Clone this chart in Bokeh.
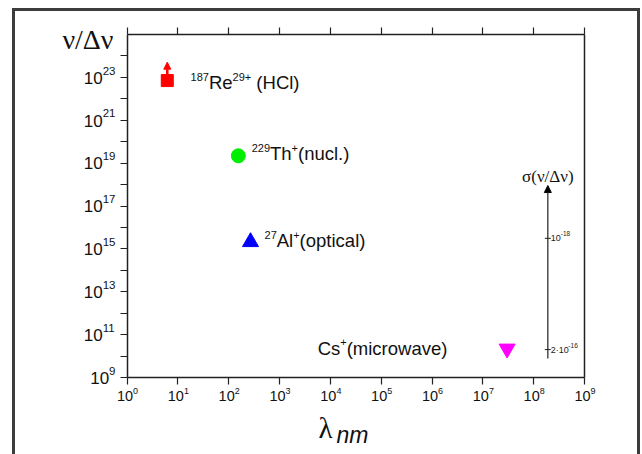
import math
from bokeh.plotting import figure
from bokeh.models import (FixedTicker, LogAxis, Label, Arrow, NormalHead,
                          CustomJSTickFormatter, Range1d)
from bokeh.embed import file_html
from bokeh.resources import INLINE

# ---------------- data ----------------
species = ["Re", "Th", "Al", "Cs"]
wavelength_nm = [6.2, 155, 269, 3.0e7]
q_factor = [7.1e22, 2.2e19, 2.1e15, 2.2e10]
# label pieces: (text, "b" = normal, "s" = superscript)
point_labels = [
    [("187", "s"), ("Re", "b"), ("29+", "s"), (" (HCl)", "b")],
    [("229", "s"), ("Th", "b"), ("+", "s"), ("(nucl.)", "b")],
    [("27", "s"), ("Al", "b"), ("+", "s"), ("(optical)", "b")],
    [("Cs", "b"), ("+", "s"), ("(microwave)", "b")],
]
re_lower_limit_tip = 5.1e23

x_ticks = [10.0 ** k for k in range(0, 10)]
y_ticks = [10.0 ** k for k in range(9, 24, 2)]
y_minor = [10.0 ** k for k in range(10, 25, 2)]
x_lim = [1.0, 1e9]
y_lim = [1e9, 1e25]

sigma_x = 1.9e8
sigma_span = [7.7e9, 9.0e17]
sigma_tick_pos = [3.1e15, 2.0e10]
sigma_tick_labels = [[("10", "b"), ("-18", "s")], [("2·10", "b"), ("-16", "s")]]

# ---------------- styles / layout ----------------
marker_styles = [
    dict(marker="square", size=12, color="#ff0000"),
    dict(marker="circle", size=14, color="#00ee00"),
    dict(marker="triangle", size=16, color="#0000ff"),
    dict(marker="inverted_triangle", size=16, color="#ff00ff"),
]
# (x offset px, baseline offset px, align)
label_place = [(23.3, -8.3, "left"), (13.3, -4.3, "left"), (14, -5.3, "left"), (-59.7, -6, "right")]

SANS = "Liberation Sans"
SERIF = "Liberation Serif"
MID = {SANS: 0.3465, SERIF: 0.3375}   # em distance baseline -> middle of em box
AX = "#222222"
TXT = "#111111"

ARIAL = {"0": .556, "1": .556, "2": .556, "3": .556, "4": .556, "5": .556, "6": .556,
         "7": .556, "8": .556, "9": .556, "+": .584, "-": .333, "·": .278, " ": .278,
         "(": .333, ")": .333, ".": .278, "R": .722, "e": .556, "H": .722, "C": .722,
         "l": .222, "T": .611, "h": .556, "n": .556, "u": .556, "c": .5, "A": .667,
         "o": .556, "p": .556, "t": .278, "i": .222, "a": .556, "s": .5, "m": .833,
         "r": .333, "w": .722, "v": .5}


def tw(s, size):
    return sum(ARIAL.get(c, .556) for c in s) * size


W, H = 642, 454
# pixel box of the axes inside the canvas
FL, FR, FT, FB = 126.5, 584.0, 34.0, 377.0
lx0, lx1 = math.log10(x_lim[0]), math.log10(x_lim[1])
ly0, ly1 = math.log10(y_lim[0]), math.log10(y_lim[1])
pdx = (FR - FL) / (lx1 - lx0)
pdy = (FB - FT) / (ly1 - ly0)
xr = Range1d(10 ** (lx0 - FL / pdx), 10 ** (lx1 + (W - FR) / pdx))
yr = Range1d(10 ** (ly0 - (H - FB) / pdy), 10 ** (ly1 + FT / pdy))

p = figure(width=W, height=H, x_axis_type="log", y_axis_type="log",
           x_range=xr, y_range=yr, x_axis_location=None, y_axis_location=None,
           output_backend="svg", toolbar_location=None, min_border=0)
p.xgrid.visible = False
p.ygrid.visible = False
p.outline_line_color = None
p.background_fill_alpha = 0
p.border_fill_alpha = 0
BC = "#3c3c3c"
p.styles = {
    "background-color": "white",
    "background-image": f"linear-gradient({BC},{BC}), linear-gradient({BC},{BC}), linear-gradient({BC},{BC})",
    "background-size": "3px 100%, 628px 3px, 3px 100%",
    "background-position": "12px 8px, 12px 8px, 637px 8px",
    "background-repeat": "no-repeat",
}


def label(x, y, text, dx, base_dy, size, font=SANS, color=TXT, align="left", style="normal"):
    """Place text whose baseline sits base_dy px above (x, y) (negative = below)."""
    p.add_layout(Label(x=x, y=y, text=text, x_offset=dx,
                       y_offset=base_dy + MID[font] * size,
                       text_align=align, text_baseline="middle",
                       text_font=font, text_font_style=style,
                       text_font_size=f"{size}px", text_color=color))


def rich(x, y, segs, dx, dy, bsize, ssize, raise_, font=SANS, color=TXT, align="left"):
    total = sum(tw(t, bsize if k == "b" else ssize) for t, k in segs)
    cur = dx if align == "left" else (dx - total if align == "right" else dx - total / 2)
    for t, k in segs:
        sz = bsize if k == "b" else ssize
        lead = len(t) - len(t.lstrip(" "))
        cur += tw(" " * lead, sz)
        t2 = t.lstrip(" ")
        label(x, y, t2, cur, dy + (raise_ if k == "s" else 0), sz, font=font, color=color)
        cur += tw(t2, sz)


blank = CustomJSTickFormatter(code="return '';")
common = dict(formatter=blank, axis_line_color=AX, axis_line_width=1.5,
              major_tick_line_color=AX, major_tick_line_width=1.2,
              minor_tick_line_color=AX, minor_tick_line_width=1.2,
              major_tick_in=0, minor_tick_in=0, major_label_standoff=0)

bottom = LogAxis(ticker=FixedTicker(ticks=x_ticks, minor_ticks=[]), fixed_location=y_lim[0],
                 bounds=tuple(x_lim), major_tick_out=7, minor_tick_out=0, **common)
top = LogAxis(ticker=FixedTicker(ticks=x_ticks, minor_ticks=[]), fixed_location=y_lim[1],
              bounds=tuple(x_lim), major_tick_out=7, minor_tick_out=0, **common)
left = LogAxis(ticker=FixedTicker(ticks=y_ticks, minor_ticks=y_minor), fixed_location=x_lim[0],
               bounds=tuple(y_lim), major_tick_out=7, minor_tick_out=7, **common)
right = LogAxis(ticker=FixedTicker(ticks=[], minor_ticks=[]), fixed_location=x_lim[1],
                bounds=tuple(y_lim), major_tick_out=0, minor_tick_out=0, **common)
p.add_layout(bottom, "below")
p.add_layout(top, "above")
p.add_layout(left, "left")
p.add_layout(right, "right")

# tick labels 10^n
for t in y_ticks:
    e = str(round(math.log10(t)))
    rich(x_lim[0], t, [("10", "b"), (e, "s")], -11.5, -6.2, 17, 11.5, 9.0, align="right")
for t in x_ticks:
    e = str(round(math.log10(t)))
    rich(t, y_lim[0], [("10", "b"), (e, "s")], 0.5, -23.7, 14.5, 9, 7.2, align="center")

# lower-limit arrow for Re
p.add_layout(Arrow(end=NormalHead(size=7, fill_color="#ff0000", line_color="#ff0000"),
                   x_start=wavelength_nm[0], y_start=q_factor[0],
                   x_end=wavelength_nm[0], y_end=re_lower_limit_tip,
                   line_color="#ff0000", line_width=2.5))

for xv, yv, st, segs, (dx, dy, al) in zip(wavelength_nm, q_factor, marker_styles,
                                           point_labels, label_place):
    p.scatter([xv], [yv], marker=st["marker"], size=st["size"],
              fill_color=st["color"], line_color=st["color"])
    rich(xv, yv, segs, dx, dy, 18.5, 11, 8.5, align=al)

# sigma scale
p.add_layout(Arrow(end=NormalHead(size=7, fill_color="black", line_color="black"),
                   x_start=sigma_x, y_start=sigma_span[0],
                   x_end=sigma_x, y_end=sigma_span[1],
                   line_color="#222222", line_width=1.2))
p.scatter([sigma_x] * len(sigma_tick_pos), sigma_tick_pos, marker="dash",
          size=6, line_color="#222222", line_width=1)
for yv, segs in zip(sigma_tick_pos, sigma_tick_labels):
    rich(sigma_x, yv, segs, 3, -3.2, 9, 6.5, 5.5, color="#222222")
label(sigma_x, sigma_span[1], "σ(ν/Δν)", 0, 3.5, 17, font=SERIF, align="center")

# axis titles
label(x_lim[0], y_lim[1], "ν/Δν", -13.5, -14, 28, font=SERIF, align="right")
label(x_ticks[4], y_lim[0], "λ", -11.8, -60.6, 29, font=SERIF)
label(x_ticks[4], y_lim[0], "nm", 6.2, -65.5, 23, style="italic")

open("out.html", "w").write(file_html(p, INLINE))
